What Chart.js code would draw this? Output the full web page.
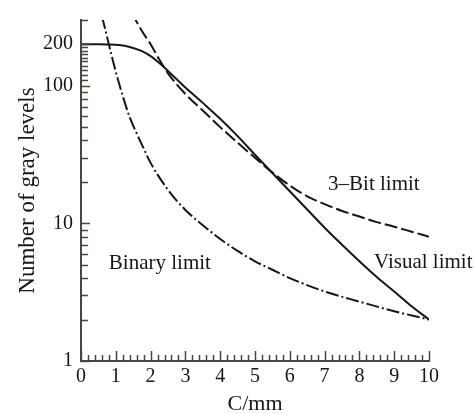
<!DOCTYPE html>
<html>
<head>
<meta charset="utf-8">
<script src="https://cdn.jsdelivr.net/npm/chart.js@4/dist/chart.umd.min.js"></script>
<style>
  html, body { margin: 0; padding: 0; background: #fff; }
</style>
</head>
<body>
<canvas id="grayLevelsChart" width="475" height="414"></canvas>
<script>
// Gray levels needed vs. spatial frequency (cycles per mm)
const visualX = [0, 0.5, 1.0, 1.25, 1.5, 1.75, 2.0, 2.25, 2.5, 3.0, 3.5, 4.0, 4.5, 5.0, 5.5, 6.0, 6.5, 7.0, 7.5, 8.0, 8.5, 9.0, 9.5, 10];
const visualY = [200, 200, 198, 195, 188, 178, 164, 146, 128, 97, 75, 57.5, 43, 31.5, 23.2, 17.1, 12.6, 9.3, 7.0, 5.3, 4.07, 3.2, 2.5, 2.0];

const threeBitX = [1.45, 1.75, 2.0, 2.25, 2.5, 3.0, 3.5, 4.0, 4.5, 5.0, 5.5, 6.0, 6.5, 7.0, 7.5, 8.0, 8.5, 9.0, 9.5, 10];
const threeBitY = [340, 250, 200, 155, 123, 87, 66, 50, 38.5, 29.9, 23.4, 18.8, 15.7, 13.8, 12.3, 11.2, 10.2, 9.45, 8.7, 8.0];

const binaryX = [0.6, 0.7, 0.8, 0.9, 1.0, 1.2, 1.4, 1.6, 1.8, 2.0, 2.5, 3.0, 3.5, 4.0, 4.5, 5.0, 5.5, 6.0, 7.0, 8.0, 9.0, 10];
const binaryY = [320, 255, 200, 158, 126, 84, 59, 45, 35, 27.5, 17.5, 12.5, 9.7, 7.7, 6.3, 5.3, 4.6, 4.0, 3.2, 2.7, 2.3, 2.0];

const xTickLabels = [0, 1, 2, 3, 4, 5, 6, 7, 8, 9, 10];
const yTickLabels = [1, 10, 100, 200];
const yMinorTicks = [2, 3, 4, 5, 6, 7, 8, 9, 20, 30, 40, 50, 60, 70, 80, 90,
                     110, 120, 130, 140, 150, 160, 170, 180, 190, 300];

const serif = '"Liberation Serif", "Times New Roman", serif';
const ink = '#161616';
const axisColor = '#4a463c';

function toPoints(xs, ys) {
    return xs.map((x, i) => ({ x: x, y: ys[i] }));
}

// inward tick marks on both axes (labels come from the scales themselves)
const innerTicks = {
    id: 'innerTicks',
    afterDraw(chart) {
        const { ctx, chartArea, scales: { x, y } } = chart;
        ctx.save();
        ctx.strokeStyle = axisColor;
        ctx.lineWidth = 1.5;
        ctx.beginPath();
        for (let i = 0; i <= 50; i++) {
            const px = Math.round(x.getPixelForValue(i / 5)) + 0.5;
            const len = i % 5 === 0 ? 10 : 6;
            ctx.moveTo(px, chartArea.bottom);
            ctx.lineTo(px, chartArea.bottom - len);
        }
        yTickLabels.concat(yMinorTicks).forEach(v => {
            const py = Math.round(y.getPixelForValue(v)) + 0.5;
            const len = yTickLabels.includes(v) ? 9 : 7;
            ctx.moveTo(chartArea.left, py);
            ctx.lineTo(chartArea.left + len, py);
        });
        ctx.stroke();
        ctx.restore();
    }
};

// curve names written next to each line
const curveLabels = {
    id: 'curveLabels',
    afterDatasetsDraw(chart) {
        const { ctx, scales: { x, y } } = chart;
        ctx.save();
        ctx.font = '21px ' + serif;
        ctx.fillStyle = ink;
        ctx.textAlign = 'left';
        ctx.textBaseline = 'middle';
        chart.data.datasets.forEach(ds => {
            ctx.fillText(ds.label, x.getPixelForValue(ds.labelAt[0]), y.getPixelForValue(ds.labelAt[1]));
        });
        ctx.restore();
    }
};

const lineBase = {
    borderColor: ink,
    borderWidth: 2,
    pointRadius: 0,
    fill: false,
    cubicInterpolationMode: 'monotone'
};

new Chart(document.getElementById('grayLevelsChart').getContext('2d'), {
    type: 'line',
    data: {
        datasets: [
            Object.assign({}, lineBase, {
                label: 'Visual limit',
                data: toPoints(visualX, visualY),
                labelAt: [8.42, 5.2]
            }),
            Object.assign({}, lineBase, {
                label: '3\u2013Bit limit',
                data: toPoints(threeBitX, threeBitY),
                borderDash: [13, 4],
                labelAt: [7.1, 19.1]
            }),
            Object.assign({}, lineBase, {
                label: 'Binary limit',
                data: toPoints(binaryX, binaryY),
                borderDash: [13, 3, 2, 3],
                labelAt: [0.8, 5.1]
            })
        ]
    },
    options: {
        responsive: false,
        animation: false,
        devicePixelRatio: 1,
        layout: { padding: { left: 0, right: 46, top: 14, bottom: 0 } },
        plugins: {
            legend: { display: false },
            tooltip: { enabled: false }
        },
        scales: {
            x: {
                type: 'linear',
                min: 0,
                max: 10,
                afterFit: s => { s.height = 53; },
                afterBuildTicks: s => { s.ticks = xTickLabels.map(v => ({ value: v })); },
                grid: { display: false, drawTicks: false },
                border: { display: true, color: axisColor, width: 2 },
                ticks: {
                    font: { family: serif, size: 20 },
                    color: ink,
                    padding: 4,
                    autoSkip: false,
                    maxRotation: 0
                },
                title: {
                    display: true,
                    text: 'C/mm',
                    font: { family: serif, size: 22 },
                    color: ink,
                    padding: { top: 0, bottom: -3 }
                }
            },
            y: {
                type: 'logarithmic',
                min: 1,
                max: 300,
                afterFit: s => { s.width = 81; },
                afterBuildTicks: s => { s.ticks = yTickLabels.map(v => ({ value: v })); },
                grid: { display: false, drawTicks: false },
                border: { display: true, color: axisColor, width: 2 },
                ticks: {
                    font: { family: serif, size: 20 },
                    color: ink,
                    padding: 8,
                    callback: v => String(v)
                },
                title: {
                    display: true,
                    text: 'Number of gray levels',
                    font: { family: serif, size: 23 },
                    color: ink,
                    padding: { top: 14, bottom: 0 }
                }
            }
        }
    },
    plugins: [innerTicks, curveLabels]
});
</script>
</body>
</html>
